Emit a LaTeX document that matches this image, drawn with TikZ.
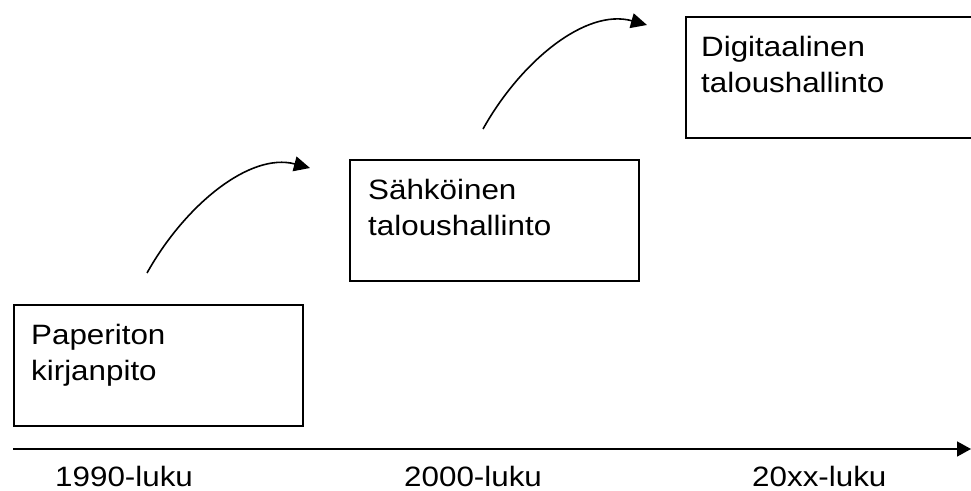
\documentclass[tikz,border=0pt]{standalone}
\usepackage{fontspec}
\setmainfont{Liberation Sans}
\newfontfamily\widefont[FakeStretch=1.12]{Liberation Sans}
\usetikzlibrary{arrows.meta}
\tikzset{
  box/.style={draw, line width=1.6bp, anchor=north west, minimum width=289bp, minimum height=121bp, inner sep=0pt},
  txt/.style={anchor=base west, inner sep=0pt, align=left, font=\widefont\fontsize{28bp}{36bp}\selectfont},
  lbl/.style={anchor=base west, inner sep=0pt, font=\widefont\fontsize{28bp}{36bp}\selectfont},
  curvearrow/.style={line width=1.6bp, -{Triangle[length=16bp,width=15bp]}},
  axis/.style={line width=1.6bp, -{Triangle[length=14bp,width=15bp]}}
}
\begin{document}
\begin{tikzpicture}[x=1bp,y=-1bp]
\useasboundingbox (0,0) rectangle (971,491);
\clip (0,0) rectangle (971,491);
% boxes
\node[box] (b1) at (13,304) {};
\node[box] (b2) at (349,159) {};
\node[box] (b3) at (685,16) {};
% box texts (base = baseline of the last line)
\node[txt] (t1) at (31,381) {Paperiton\\kirjanpito};
\node[txt] (t2) at (368,236) {Sähköinen\\taloushallinto};
\node[txt] (t3) at (701,93) {Digitaalinen\\taloushallinto};
% curved arrows
\coordinate (a1s) at (147,273);
\coordinate (a1e) at (310,168);
\coordinate (a2s) at (483,129);
\coordinate (a2e) at (647,25);
\draw[curvearrow] (a1s) .. controls (185,205) and (250,152) .. (a1e);
\draw[curvearrow] (a2s) .. controls (521,61) and (586,8) .. (a2e);
% axis
\coordinate (ax0) at (13,449);
\coordinate (ax1) at (971,449);
\draw[axis] (ax0) -- (ax1);
% labels
\node[lbl] (l1) at (55,486) {1990-luku};
\node[lbl] (l2) at (404,486) {2000-luku};
\node[lbl] (l3) at (752,486) {20xx-luku};
\end{tikzpicture}
\end{document}
